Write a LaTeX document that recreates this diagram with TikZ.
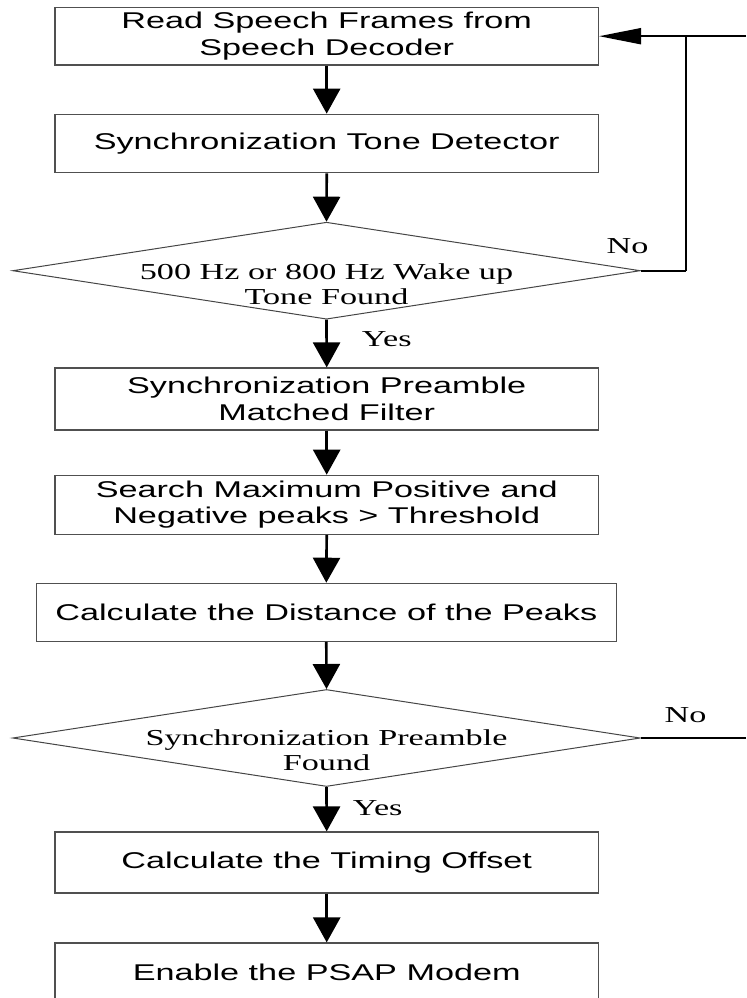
\documentclass[tikz,border=0pt]{standalone}
\usepackage{fontspec}
\setmainfont[FakeStretch=1.5]{Liberation Sans}
\newfontfamily\tms[FakeStretch=1.5]{Liberation Serif}
\usetikzlibrary{shapes.geometric,arrows.meta}
\definecolor{boxgray}{HTML}{505050}
\definecolor{diagray}{HTML}{454545}
\begin{document}
\begin{tikzpicture}[x=0.75pt,y=-0.75pt,
  box/.style={draw=boxgray, line width=0.9pt, rectangle, minimum width=543.5*0.75pt,
    inner sep=0pt, align=center, font=\fontsize{17.1pt}{19.8pt}\selectfont},
  dia/.style={draw=diagray, line width=0.75pt, diamond, inner sep=0pt,
    minimum width=627.5*0.75pt, minimum height=97*0.75pt},
  dtxt/.style={inner sep=0pt, align=center, font=\tms\fontsize{17.1pt}{18.75pt}\selectfont},
  lab/.style={inner sep=0pt, font=\tms\fontsize{17.1pt}{18.75pt}\selectfont},
  varr/.style={line width=2pt, -{Triangle[length=18.75pt,width=20.25pt]}},
  harr/.style={line width=1.4pt, -{Triangle[length=31.5pt,width=12pt]}},
  hline/.style={line width=1.4pt},
  vline/.style={line width=2pt}
]
\useasboundingbox (0,0) rectangle (746,998);
\clip (0,0) rectangle (746,998);

% boxes
\node[box, minimum height=57.7*0.75pt] (b1) at (326.7,36.2) {Read Speech Frames from\\Speech Decoder};
\node[box, minimum height=58.5*0.75pt] (b2) at (326.7,143.5) {Synchronization Tone Detector};
\node[dia] (d1) at (326.5,270.7) {};
\node[dtxt] (d1t) at (326.5,284) {500 Hz or 800 Hz Wake up\\Tone Found};
\node[box, minimum height=62*0.75pt] (b3) at (326.7,399) {Synchronization Preamble\\Matched Filter};
\node[box, minimum height=59*0.75pt] (b4) at (326.7,504.8) {Search Maximum Positive and\\Negative peaks > Threshold};
\node[box, minimum width=580*0.75pt, minimum height=58*0.75pt] (b5) at (326.3,612.3) {Calculate the Distance of the Peaks};
\node[dia] (d2) at (326.5,738) {};
\node[dtxt] (d2t) at (326.5,750) {Synchronization Preamble\\Found};
\node[box, minimum height=61*0.75pt] (b6) at (326.7,862.5) {Calculate the Timing Offset};
\node[box, minimum height=58*0.75pt] (b7) at (326.7,972) {Enable the PSAP Modem};

% labels
\node[lab, anchor=base] (no1) at (627.5,254) {No};
\node[lab, anchor=base] (no2) at (685.5,722) {No};
\node[lab, anchor=base west] (yes1) at (361.7,346.7) {Yes};
\node[lab, anchor=base west] (yes2) at (352.5,815.5) {Yes};

% coordinates for loop lines
\coordinate (c1) at (686,270.7);
\coordinate (c2) at (686,36.2);
\coordinate (rt1) at (746,36.2);
\coordinate (rt2) at (746,738);

% vertical arrows
\draw[varr] (b1.south) -- (b2.north);
\draw[varr] (b2.south) -- (d1.north);
\draw[varr] (d1.south) -- (b3.north);
\draw[varr] (b3.south) -- (b4.north);
\draw[varr] (b4.south) -- (b5.north);
\draw[varr] (b5.south) -- (d2.north);
\draw[varr] (d2.south) -- (b6.north);
\draw[varr] (b6.south) -- (b7.north);

% loop back
\draw[hline] (d1.east) -- (c1);
\draw[vline] (c1) -- (c2);
\draw[harr] (rt1) -- (b1.east);
\draw[hline] (d2.east) -- (rt2);
\end{tikzpicture}
\end{document}
